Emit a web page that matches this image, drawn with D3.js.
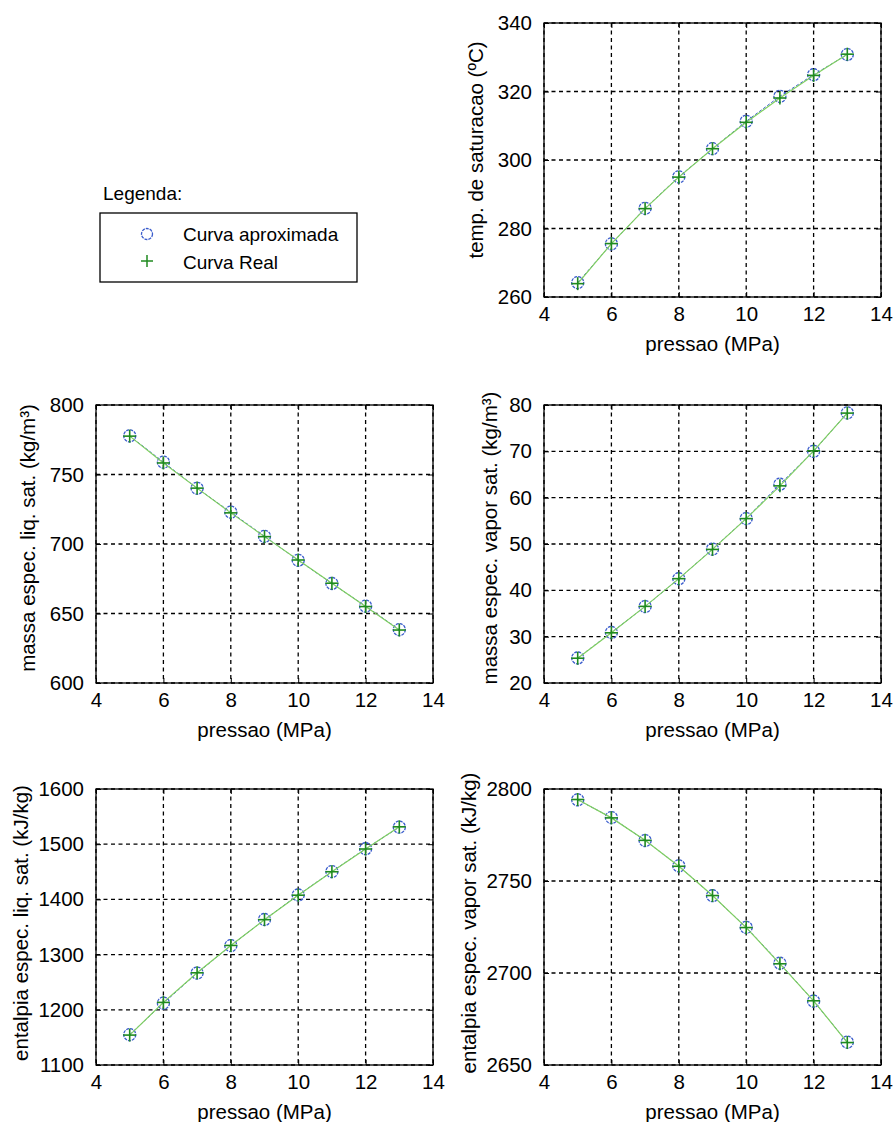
<!DOCTYPE html>
<html>
<head>
<meta charset="utf-8">
<script src="https://cdn.jsdelivr.net/npm/d3@7"></script>
<style>
  html, body { margin: 0; padding: 0; background: #fff; }
  svg { display: block; }
  text { font-family: "Liberation Sans", Arial, sans-serif; fill: #000; }
</style>
</head>
<body>
<svg id="chart" width="893" height="1122"></svg>
<script>
// ---------------- DATA ----------------
const pressao = [5, 6, 7, 8, 9, 10, 11, 12, 13];
const xTicks = [4, 6, 8, 10, 12, 14];

const tsatReal  = [263.9, 275.6, 285.8, 295.0, 303.3, 311.0, 318.1, 324.7, 330.9];
const tsatAprox = [264.2, 275.5, 285.9, 295.1, 303.3, 311.3, 318.6, 324.9, 330.8];
const tsatTicks = [260, 280, 300, 320, 340];

const rhoLiqReal  = [777.6, 758.3, 740.2, 722.4, 705.3, 688.5, 671.8, 655.0, 638.1];
const rhoLiqAprox = [777.8, 758.9, 740.1, 722.9, 705.5, 688.3, 671.6, 655.3, 638.4];
const rhoLiqTicks = [600, 650, 700, 750, 800];

const rhoVapReal  = [25.35, 30.83, 36.54, 42.52, 48.83, 55.48, 62.55, 70.11, 78.25];
const rhoVapAprox = [25.4, 30.9, 36.5, 42.5, 48.9, 55.5, 62.9, 70.0, 78.3];
const rhoVapTicks = [20, 30, 40, 50, 60, 70, 80];

const hLiqReal  = [1154.2, 1213.4, 1267.0, 1316.6, 1363.3, 1407.6, 1450.1, 1491.3, 1531.5];
const hLiqAprox = [1155.0, 1212.0, 1266.5, 1316.2, 1363.6, 1408.0, 1450.5, 1491.8, 1530.8];
const hLiqTicks = [1100, 1200, 1300, 1400, 1500, 1600];

const hVapReal  = [2794.3, 2784.3, 2772.1, 2758.0, 2742.1, 2724.7, 2705.0, 2684.9, 2662.2];
const hVapAprox = [2794.1, 2784.5, 2772.0, 2758.2, 2742.0, 2724.8, 2705.3, 2684.7, 2662.4];
const hVapTicks = [2650, 2700, 2750, 2800];

const xLabel = "pressao (MPa)";
const legendTitle = "Legenda:";
const legendLabels = ["Curva aproximada", "Curva Real"];

// ---------------- LAYOUT ----------------
const panels = [
  { real: tsatReal,   aprox: tsatAprox,   ticks: tsatTicks,   label: "temp. de saturacao (ºC)",
    x0: 544, x1: 881, y0: 23,  y1: 297,  labelDx: 61, labelDy: -10 },
  { real: rhoLiqReal, aprox: rhoLiqAprox, ticks: rhoLiqTicks, label: "massa espec. liq. sat. (kg/m³)",
    x0: 96,  x1: 433, y0: 405, y1: 683,  labelDx: 61, labelDy: -6 },
  { real: rhoVapReal, aprox: rhoVapAprox, ticks: rhoVapTicks, label: "massa espec. vapor sat. (kg/m³)",
    x0: 544, x1: 881, y0: 405, y1: 683,  labelDx: 47, labelDy: -6 },
  { real: hLiqReal,   aprox: hLiqAprox,   ticks: hLiqTicks,   label: "entalpia espec. liq. sat. (kJ/kg)",
    x0: 96,  x1: 433, y0: 789, y1: 1065, labelDx: 68, labelDy: -4 },
  { real: hVapReal,   aprox: hVapAprox,   ticks: hVapTicks,   label: "entalpia espec. vapor sat. (kJ/kg)",
    x0: 544, x1: 881, y0: 789, y1: 1065, labelDx: 68, labelDy: -4 }
];

const FS = 20.5;
const blue = "#3a5ccc";
const greenMark = "#1f8a1f";
const greenLine = "#80d060";

const svg = d3.select("#chart");

panels.forEach(p => {
  const x = d3.scaleLinear().domain([4, 14]).range([p.x0, p.x1]);
  const y = d3.scaleLinear().domain(d3.extent(p.ticks)).range([p.y1, p.y0]);
  const g = svg.append("g");

  // grid
  g.selectAll(".vg").data(xTicks).enter().append("line")
    .attr("x1", d => x(d)).attr("x2", d => x(d))
    .attr("y1", p.y0).attr("y2", p.y1)
    .attr("stroke", "#000").attr("stroke-width", 1.3).attr("stroke-dasharray", "4,3.5");
  g.selectAll(".hg").data(p.ticks).enter().append("line")
    .attr("x1", p.x0).attr("x2", p.x1)
    .attr("y1", d => y(d)).attr("y2", d => y(d))
    .attr("stroke", "#000").attr("stroke-width", 1.3).attr("stroke-dasharray", "4,3.5");

  // axes with inward ticks
  const axB = d3.axisBottom(x).tickValues(xTicks).tickSize(-5).tickPadding(9).tickFormat(d3.format("d"));
  const axT = d3.axisTop(x).tickValues(xTicks).tickSize(-5).tickFormat("");
  const axL = d3.axisLeft(y).tickValues(p.ticks).tickSize(-5).tickPadding(12).tickFormat(d3.format("d"));
  const axR = d3.axisRight(y).tickValues(p.ticks).tickSize(-5).tickFormat("");

  const styleAx = sel => {
    sel.select(".domain").remove();
    sel.selectAll(".tick line").attr("stroke", "#000");
    sel.selectAll("text").style("font-size", FS + "px").style("font-family", '"Liberation Sans", Arial, sans-serif').attr("fill", "#000");
  };
  g.append("g").attr("transform", `translate(0,${p.y1})`).call(axB).call(styleAx);
  g.append("g").attr("transform", `translate(0,${p.y0})`).call(axT).call(styleAx);
  g.append("g").attr("transform", `translate(${p.x0},0)`).call(axL).call(styleAx);
  g.append("g").attr("transform", `translate(${p.x1},0)`).call(axR).call(styleAx);

  // frame
  g.append("rect").attr("x", p.x0).attr("y", p.y0)
    .attr("width", p.x1 - p.x0).attr("height", p.y1 - p.y0)
    .attr("fill", "none").attr("stroke", "#000").attr("stroke-width", 1.3);

  const aproxPts = pressao.map((v, i) => [v, p.aprox[i]]);
  const realPts = pressao.map((v, i) => [v, p.real[i]]);
  const line = d3.line().x(d => x(d[0])).y(d => y(d[1]));

  // approximate curve (blue dashed + circles)
  g.append("path").attr("d", line(aproxPts)).attr("fill", "none")
    .attr("stroke", blue).attr("stroke-width", 1).attr("stroke-dasharray", "3,2");
  g.selectAll(".circ").data(aproxPts).enter().append("circle")
    .attr("cx", d => x(d[0])).attr("cy", d => y(d[1])).attr("r", 6)
    .attr("fill", "none").attr("stroke", blue).attr("stroke-width", 1.3)
    .attr("stroke-dasharray", "3,1");

  // real curve (green line + plus)
  g.append("path").attr("d", line(realPts)).attr("fill", "none")
    .attr("stroke", greenLine).attr("stroke-width", 1.2);
  const plus = g.selectAll(".plus").data(realPts).enter().append("g")
    .attr("transform", d => `translate(${x(d[0])},${y(d[1])})`);
  plus.append("line").attr("x1", -6.5).attr("x2", 6.5).attr("y1", 0).attr("y2", 0)
    .attr("stroke", greenMark).attr("stroke-width", 1.6);
  plus.append("line").attr("x1", 0).attr("x2", 0).attr("y1", -6.5).attr("y2", 6.5)
    .attr("stroke", greenMark).attr("stroke-width", 1.6);

  // labels
  g.append("text").attr("x", (p.x0 + p.x1) / 2).attr("y", p.y1 + 54)
    .attr("text-anchor", "middle").style("font-size", FS + "px").text(xLabel);
  const lx = p.x0 - p.labelDx, ly = (p.y0 + p.y1) / 2 + p.labelDy;
  g.append("text").attr("transform", `translate(${lx},${ly}) rotate(-90)`)
    .attr("text-anchor", "middle").style("font-size", FS + "px").text(p.label);
});

// ---------------- LEGEND ----------------
const lg = svg.append("g");
lg.append("text").attr("x", 103).attr("y", 200).style("font-size", "19px").text(legendTitle);
lg.append("rect").attr("x", 100).attr("y", 213).attr("width", 257).attr("height", 69)
  .attr("fill", "#fff").attr("stroke", "#000").attr("stroke-width", 1.3);
lg.append("circle").attr("cx", 147).attr("cy", 234).attr("r", 5.5)
  .attr("fill", "none").attr("stroke", blue).attr("stroke-width", 1.3).attr("stroke-dasharray", "3,1");
lg.append("line").attr("x1", 141).attr("x2", 153).attr("y1", 261).attr("y2", 261).attr("stroke", greenMark).attr("stroke-width", 1.5);
lg.append("line").attr("x1", 147).attr("x2", 147).attr("y1", 255).attr("y2", 267).attr("stroke", greenMark).attr("stroke-width", 1.5);
lg.selectAll(".lt").data(legendLabels).enter().append("text")
  .attr("x", 183).attr("y", (d, i) => 241 + i * 28).style("font-size", "19px").text(d => d);
</script>
</body>
</html>
